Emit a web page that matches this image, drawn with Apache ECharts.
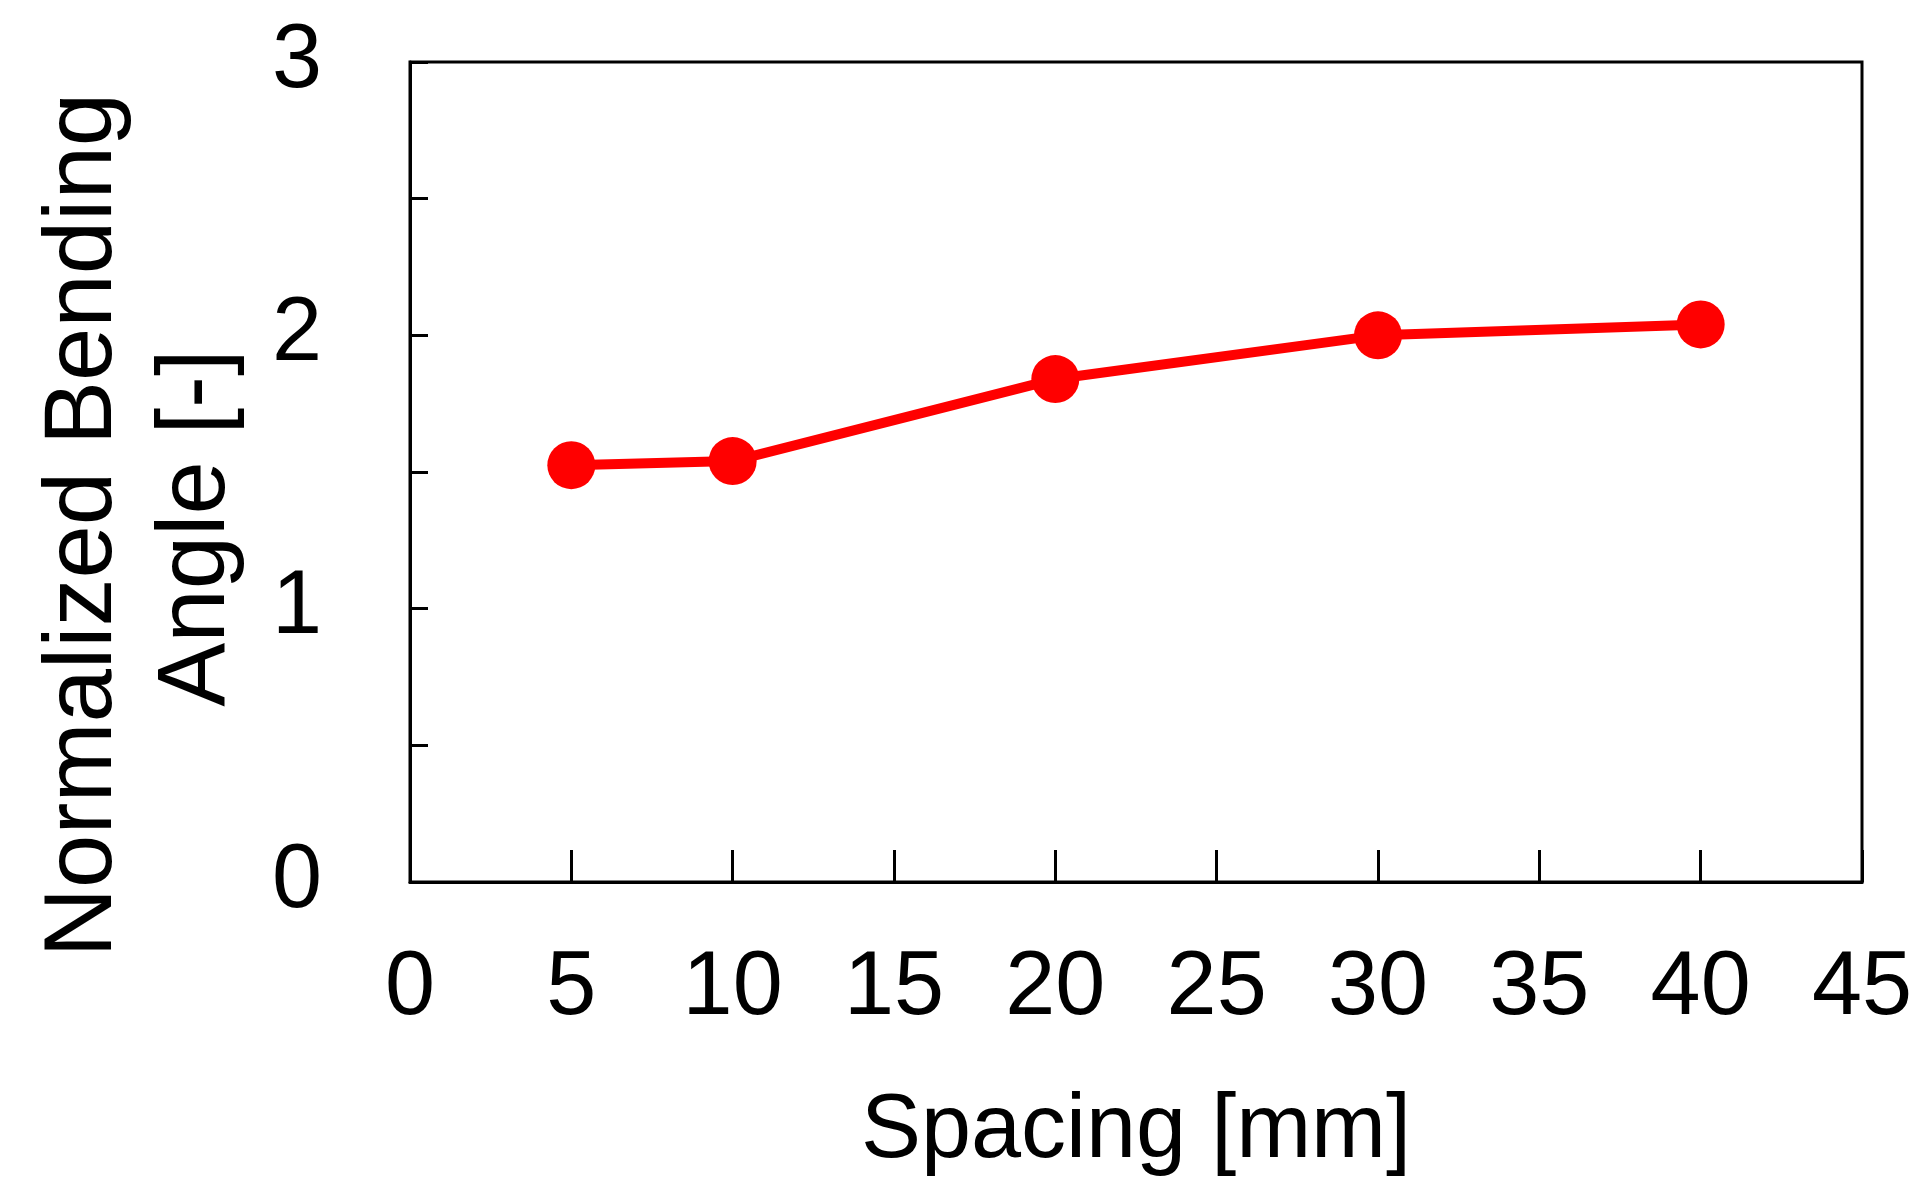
<!DOCTYPE html>
<html><head><meta charset="utf-8">
<script src="https://cdn.jsdelivr.net/npm/echarts@6/dist/echarts.min.js"></script>
<style>html,body{margin:0;padding:0;background:#fff}#c{width:1929px;height:1202px}</style>
</head><body><div id="c"></div>
<script>
const spacing = [5, 10, 20, 30, 40];
const angle = [1.525, 1.54, 1.84, 2.0, 2.04];
const xTitle = 'Spacing [mm]';
const yTitle1 = 'Normalized Bending';
const yTitle2 = 'Angle [-]';
const font = 'Liberation Sans, Arial, sans-serif';
const chart = echarts.init(document.getElementById('c'));
chart.setOption({
  backgroundColor: '#fff',
  animation: false,
  grid: {left: 410, right: 67, top: 62, bottom: 320, show: true, borderColor: '#000', borderWidth: 3},
  xAxis: {
    type: 'value', min: 0, max: 45, interval: 5,
    name: xTitle, nameLocation: 'middle', nameGap: 205,
    nameTextStyle: {fontFamily: font, fontSize: 90, color: '#000'},
    axisLine: {show: true, onZero: false, lineStyle: {color: '#000', width: 3}},
    axisTick: {show: true, inside: true, length: 32, lineStyle: {color: '#000', width: 3}},
    axisLabel: {fontFamily: font, fontSize: 90, color: '#000', margin: 62},
    splitLine: {show: false}
  },
  yAxis: {
    type: 'value', min: 0, max: 3, interval: 0.5,
    axisLine: {show: true, lineStyle: {color: '#000', width: 3}},
    axisTick: {show: true, inside: true, length: 18, lineStyle: {color: '#000', width: 3}},
    axisLabel: {fontFamily: font, fontSize: 90, color: '#000', margin: 88,
      formatter: v => (Number.isInteger(v) ? String(v) : '')},
    splitLine: {show: false}
  },
  graphic: [
    {type: 'text', x: 85, y: 525, rotation: Math.PI / 2,
     style: {text: yTitle1, font: '96px ' + font, fill: '#000', align: 'center', verticalAlign: 'middle'}},
    {type: 'text', x: 198, y: 528, rotation: Math.PI / 2,
     style: {text: yTitle2, font: '96px ' + font, fill: '#000', align: 'center', verticalAlign: 'middle'}}
  ],
  series: [{
    type: 'line',
    data: spacing.map((x, i) => [x, angle[i]]),
    symbol: 'circle', symbolSize: 48,
    lineStyle: {color: '#ff0000', width: 10},
    itemStyle: {color: '#ff0000'}
  }]
});
</script></body></html>
